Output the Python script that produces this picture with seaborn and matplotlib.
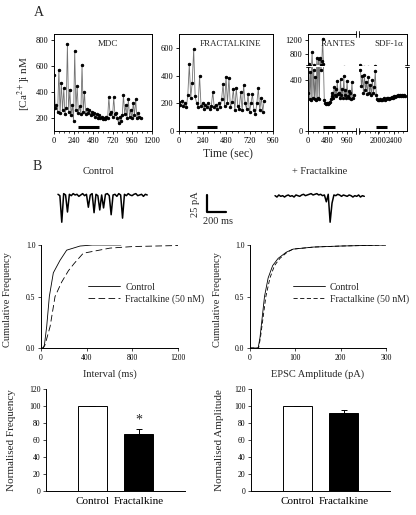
import numpy as np
import matplotlib
matplotlib.use("Agg")
import matplotlib.pyplot as plt
from matplotlib.ticker import MultipleLocator
import seaborn as sns

sns.set_theme(style="ticks")
plt.rcParams['font.family'] = ['Liberation Serif', 'DejaVu Serif']
plt.rcParams['mathtext.fontset'] = 'stix'
plt.rcParams['axes.linewidth'] = 0.7
plt.rcParams['axes.edgecolor'] = 'black'
plt.rcParams['xtick.color'] = 'black'
plt.rcParams['ytick.color'] = 'black'

# --- datos panel A: [Ca2+]i (nM), muestras cada N segundos ---
mdc_step = 15
mdc_ca = [530, 280, 300, 250, 575, 240, 470, 260, 430, 230, 280, 770, 250, 420, 220,
          300, 180, 720, 260, 450, 240, 290, 230, 610, 250, 400, 230, 270, 240, 260,
          220, 250, 230, 240, 210, 230, 200, 220, 200, 210, 195, 200, 190, 210, 200,
          360, 230, 250, 210, 360, 230, 240, 200, 160, 210, 180, 220, 380, 230, 300,
          200, 345, 210, 260, 200, 320, 220, 345, 200, 240, 210, 200]
mdc_app = [290, 550]

frac_step = 15
frac_ca = [210, 190, 220, 180, 200, 170, 260, 480, 240, 350, 590, 250, 200, 170, 400,
           180, 200, 160, 190, 170, 200, 160, 180, 280, 170, 190, 160, 200, 170, 230,
           340, 180, 390, 200, 385, 170, 210, 300, 150, 310, 180, 160, 280, 150, 330,
           200, 160, 265, 140, 200, 265, 150, 120, 200, 310, 150, 240, 140, 220]
frac_app = [180, 390]

rantes_step = 20
rantes_ca = [300, 520, 250, 460, 240, 860, 260, 480, 250, 420, 240, 700, 260, 650, 250,
             700, 480, 600, 1250, 520, 240, 220, 210, 215, 210, 220, 215, 230, 250, 270,
             300, 260, 340, 280, 330, 270, 390, 290, 300, 260, 410, 280, 330, 260, 430,
             280, 320, 260, 390, 270, 310, 260, 300, 250, 380, 260, 280]
rantes_app = [370, 665]

sdf_start = 1560
sdf_step = 25
sdf_ca = [480, 350, 430, 300, 440, 320, 380, 290, 420, 300, 360, 280, 400, 300, 340,
          470, 280, 250, 245, 240, 250, 245, 240, 250, 255, 245, 250, 255, 260, 250,
          260, 255, 265, 260, 270, 265, 275, 270, 280, 270, 285, 275, 280, 270, 280, 275]
sdf_app = [1950, 2245]

# --- datos panel B: registros EPSC (pA), cada 20 ms ---
trace_step = 20
ctrl_trace = [1, -1, -40, 2, 0, -25, 1, -1, 2, 0, 1, -2, 0, 2, -1, 1, -18, 0, 2, -26,
              1, -1, -22, 0, -19, 1, 2, -1, -29, 0, 1, -2, 2, 0, -34, 1, -1, 2, 0, -1,
              1, 2, -1, 0, 1, -2, 1, 0]
fkn_trace = [-1, -3, 0, -2, -1, -3, -1, 0, -2, -1, -3, 0, -1, -2, 0, 1, -1, 0, 1, 2,
             0, 1, 2, 0, 1, -1, 0, -10, 1, -40, -12, 0, -1, 1, 0, -2, 0, -1, -2, 0,
             -1, -3, -1, -2, 0, -3, -1, -2]

# distribuciones acumuladas
int_ctrl_x = [0, 20, 30, 50, 73, 108, 166, 225, 342, 450, 700]
int_ctrl_y = [0, 0, 0.03, 0.21, 0.5, 0.73, 0.85, 0.95, 0.99, 1.0, 1.0]
int_fkn_x = [0, 20, 35, 80, 123, 181, 240, 290, 370, 605, 806, 1200]
int_fkn_y = [0, 0, 0.03, 0.21, 0.5, 0.64, 0.75, 0.82, 0.92, 0.97, 0.985, 0.995]

amp_ctrl_x = [0, 18, 22, 27, 32, 40, 50, 62, 80, 95, 140, 200, 300]
amp_ctrl_y = [0, 0, 0.1, 0.3, 0.5, 0.68, 0.8, 0.87, 0.93, 0.96, 0.98, 0.99, 1.0]
amp_fkn_x = [0, 19, 23, 29, 35, 44, 54, 66, 82, 95, 140, 200, 300]
amp_fkn_y = [0, 0, 0.1, 0.3, 0.5, 0.68, 0.8, 0.87, 0.93, 0.96, 0.98, 0.99, 1.0]

# barras normalizadas
groups = ['Control', 'Fractalkine']
norm_freq = [100, 67]
norm_freq_err = [0, 6]
norm_amp = [100, 92]
norm_amp_err = [0, 3]

W, H = 416, 515
fig = plt.figure(figsize=(W / 100, H / 100), dpi=100)


def box(x0, y0, x1, y1):
    return [x0 / W, 1 - y1 / H, (x1 - x0) / W, (y1 - y0) / H]


def ftext(x, y, s, **kw):
    kw.setdefault('ha', 'center')
    kw.setdefault('va', 'center')
    fig.text(x / W, 1 - y / H, s, **kw)


def ca_trace(ax, t, v):
    sns.lineplot(x=t, y=v, ax=ax, color='0.45', lw=0.6, marker='o', markersize=1.7,
                 markerfacecolor='black', markeredgecolor='black', estimator=None)


def style_ca(ax, fs=6):
    ax.tick_params(axis='both', direction='out', length=2.5, width=0.6, labelsize=fs, pad=1.5)
    ax.tick_params(axis='x', which='minor', direction='out', length=1.5, width=0.5)
    ax.set_xlabel('')
    ax.set_ylabel('')


# ---------- A: MDC ----------
ax = fig.add_axes(box(54, 34, 151.5, 131))
ca_trace(ax, np.arange(len(mdc_ca)) * mdc_step, mdc_ca)
ax.plot(mdc_app, [130, 130], color='black', lw=2.2, solid_capstyle='butt')
ax.set_xlim(0, 1200)
ax.set_ylim(100, 850)
ax.set_xticks(range(0, 1201, 240))
ax.set_yticks(range(200, 801, 200))
ax.xaxis.set_minor_locator(MultipleLocator(60))
style_ca(ax)
ax.text(0.55, 0.9, 'MDC', transform=ax.transAxes, ha='center', va='center', fontsize=6.5)

# ---------- A: FRACTALKINE ----------
ax = fig.add_axes(box(179, 34, 273, 131))
ca_trace(ax, np.arange(len(frac_ca)) * frac_step, frac_ca)
ax.plot(frac_app, [30, 30], color='black', lw=2.2, solid_capstyle='butt')
ax.set_xlim(0, 960)
ax.set_ylim(0, 700)
ax.set_xticks(range(0, 961, 240))
ax.set_yticks(range(0, 601, 200))
ax.xaxis.set_minor_locator(MultipleLocator(60))
style_ca(ax)
ax.text(0.55, 0.9, 'FRACTALKINE', transform=ax.transAxes, ha='center', va='center', fontsize=6.5)

# ---------- A: RANTES / SDF-1a (ejes partidos) ----------
r_t = np.arange(len(rantes_ca)) * rantes_step
s_t = sdf_start + np.arange(len(sdf_ca)) * sdf_step
axRU = fig.add_axes(box(308, 34, 356, 64.5))
axRL = fig.add_axes(box(308, 67, 356, 131))
axSU = fig.add_axes(box(358.5, 34, 407, 64.5))
axSL = fig.add_axes(box(358.5, 67, 407, 131))
for a in (axRU, axRL):
    ca_trace(a, r_t, rantes_ca)
    a.set_xlim(0, 1180)
for a in (axSU, axSL):
    ca_trace(a, s_t, sdf_ca)
    a.set_xlim(1510, 2740)
axRL.plot(rantes_app, [30, 30], color='black', lw=2.2, solid_capstyle='butt')
axSL.plot(sdf_app, [30, 30], color='black', lw=2.2, solid_capstyle='butt')
for a in (axRU, axSU):
    a.set_ylim(505, 1380)
    a.spines['bottom'].set_visible(False)
    a.tick_params(axis='x', which='both', bottom=False, labelbottom=False)
for a in (axRL, axSL):
    a.set_ylim(0, 500)
    a.spines['top'].set_visible(False)
axRU.set_yticks([800, 1200])
axRL.set_yticks([0, 400])
axRL.set_xticks([0, 480, 960])
axSL.set_xticks([2000, 2400])
for a in (axRL, axSL, axRU, axSU):
    a.xaxis.set_minor_locator(MultipleLocator(120))
    style_ca(a)
for a in (axRU, axRL):
    a.spines['right'].set_visible(False)
for a in (axSU, axSL):
    a.spines['left'].set_visible(False)
    a.tick_params(axis='y', left=False, labelleft=False)
# marcas de corte
kw = dict(color='black', lw=0.6, clip_on=False)
axRU.plot([-0.04, 0.04], [0.0, 0.0], transform=axRU.transAxes, **kw)
axRL.plot([-0.04, 0.04], [1.0, 1.0], transform=axRL.transAxes, **kw)
axSU.plot([0.96, 1.04], [0.0, 0.0], transform=axSU.transAxes, **kw)
axSL.plot([0.96, 1.04], [1.0, 1.0], transform=axSL.transAxes, **kw)
axRU.plot([1, 1], [0.9, 1.1], transform=axRU.transAxes, **kw)
axSU.plot([0, 0], [0.9, 1.1], transform=axSU.transAxes, **kw)
axRL.plot([1, 1], [-0.05, 0.05], transform=axRL.transAxes, **kw)
axSL.plot([0, 0], [-0.05, 0.05], transform=axSL.transAxes, **kw)
ftext(338, 44, 'RANTES', fontsize=6.5)
ftext(389, 44, 'SDF-1α', fontsize=6.5)

ftext(39, 13, 'A', fontsize=10)
ftext(24, 84, '[Ca$^{2+}$]i nM', rotation=90, fontsize=8)
ftext(228, 154, 'Time (sec)', fontsize=8.5)

# ---------- B: registros ----------
ftext(37, 166, 'B', fontsize=10)
ftext(98, 172, 'Control', fontsize=7.5)
ftext(320, 172, '+ Fractalkine', fontsize=7.5)
axT = fig.add_axes(box(50, 183, 370, 228))
ctrl_off, fkn_off = 84, 2370
sns.lineplot(x=ctrl_off + np.arange(len(ctrl_trace)) * trace_step, y=ctrl_trace, ax=axT,
             color='black', lw=1.1, estimator=None)
sns.lineplot(x=fkn_off + np.arange(len(fkn_trace)) * trace_step, y=fkn_trace, ax=axT,
             color='black', lw=1.1, estimator=None)
sb_t, sb_i, sb_x = 200, 25, 1653
axT.plot([sb_x, sb_x, sb_x + sb_t], [0, -sb_i, -sb_i], color='black', lw=1.6)
axT.set_xlim(0, 3370)
axT.set_ylim(-48.5, 17.6)
axT.axis('off')
ftext(195, 204, '25 pA', rotation=90, fontsize=7.5)
ftext(218, 222, '200 ms', fontsize=7.5)


def style_open(ax):
    sns.despine(ax=ax)
    ax.tick_params(axis='both', direction='out', length=2, width=0.5, labelsize=5.5, pad=2)
    ax.set_xlabel('')
    ax.set_ylabel('')


# ---------- B: distribuciones acumuladas ----------
ax = fig.add_axes(box(41, 245, 178, 348))
sns.lineplot(x=int_ctrl_x, y=int_ctrl_y, ax=ax, color='black', lw=0.6, label='Control')
sns.lineplot(x=int_fkn_x, y=int_fkn_y, ax=ax, color='black', lw=0.6,
             linestyle=(0, (8, 4)), label='Fractalkine (50 nM)')
ax.set_xlim(0, 1200)
ax.set_ylim(0, 1)
ax.set_xticks(range(0, 1201, 400))
ax.set_yticks([0, 0.5, 1.0])
ax.set_yticklabels(['0.0', '0.5', '1.0'])
style_open(ax)
ax.legend(frameon=False, fontsize=7, handlelength=3.3, loc='upper left',
          bbox_to_anchor=(0.31, 0.68), borderpad=0, labelspacing=0.25, handletextpad=0.5)
ftext(110, 374, 'Interval (ms)', fontsize=7.5)
ftext(8, 300, 'Cumulative Frequency', rotation=90, fontsize=7.5)

ax = fig.add_axes(box(250, 245, 386, 348))
sns.lineplot(x=amp_ctrl_x, y=amp_ctrl_y, ax=ax, color='black', lw=0.6, label='Control')
sns.lineplot(x=amp_fkn_x, y=amp_fkn_y, ax=ax, color='black', lw=0.6,
             linestyle=(0, (5, 3)), label='Fractalkine (50 nM)')
ax.set_xlim(0, 300)
ax.set_ylim(0, 1)
ax.set_xticks(range(0, 301, 100))
ax.set_yticks([0, 0.5, 1.0])
ax.set_yticklabels(['0.0', '0.5', '1.0'])
style_open(ax)
ax.legend(frameon=False, fontsize=7, handlelength=3.3, loc='upper left',
          bbox_to_anchor=(0.28, 0.68), borderpad=0, labelspacing=0.25, handletextpad=0.5)
ftext(318, 374, 'EPSC Amplitude (pA)', fontsize=7.5)
ftext(218, 300, 'Cumulative Frequency', rotation=90, fontsize=7.5)


# ---------- B: barras ----------
def bar_panel(rect, vals, errs, ylabel, ylab_x, star=False):
    ax = fig.add_axes(box(*rect))
    sns.barplot(x=groups, y=vals, hue=groups, palette=['white', 'black'], ax=ax,
                edgecolor='black', linewidth=0.7, width=0.63, legend=False, errorbar=None)
    ax.errorbar(range(len(vals)), vals, yerr=[np.zeros(len(errs)), errs], fmt='none',
                ecolor='black', elinewidth=0.7, capsize=2, capthick=0.7)
    ax.set_xlim(-1, 2)
    ax.set_ylim(0, 120)
    ax.set_yticks(range(0, 121, 20))
    style_open(ax)
    ax.tick_params(axis='x', length=0, labelsize=8, pad=4)
    if star:
        ax.text(1, vals[1] + errs[1] + 3, '*', ha='center', va='bottom', fontsize=10)
    ftext(ylab_x, 440, ylabel, rotation=90, fontsize=8)


bar_panel((46, 389, 185, 491), norm_freq, norm_freq_err, 'Normalised Frequency', 12, star=True)
bar_panel((251, 389, 390, 491), norm_amp, norm_amp_err, 'Normalised Amplitude', 219)

fig.savefig('out.png', dpi=100)
